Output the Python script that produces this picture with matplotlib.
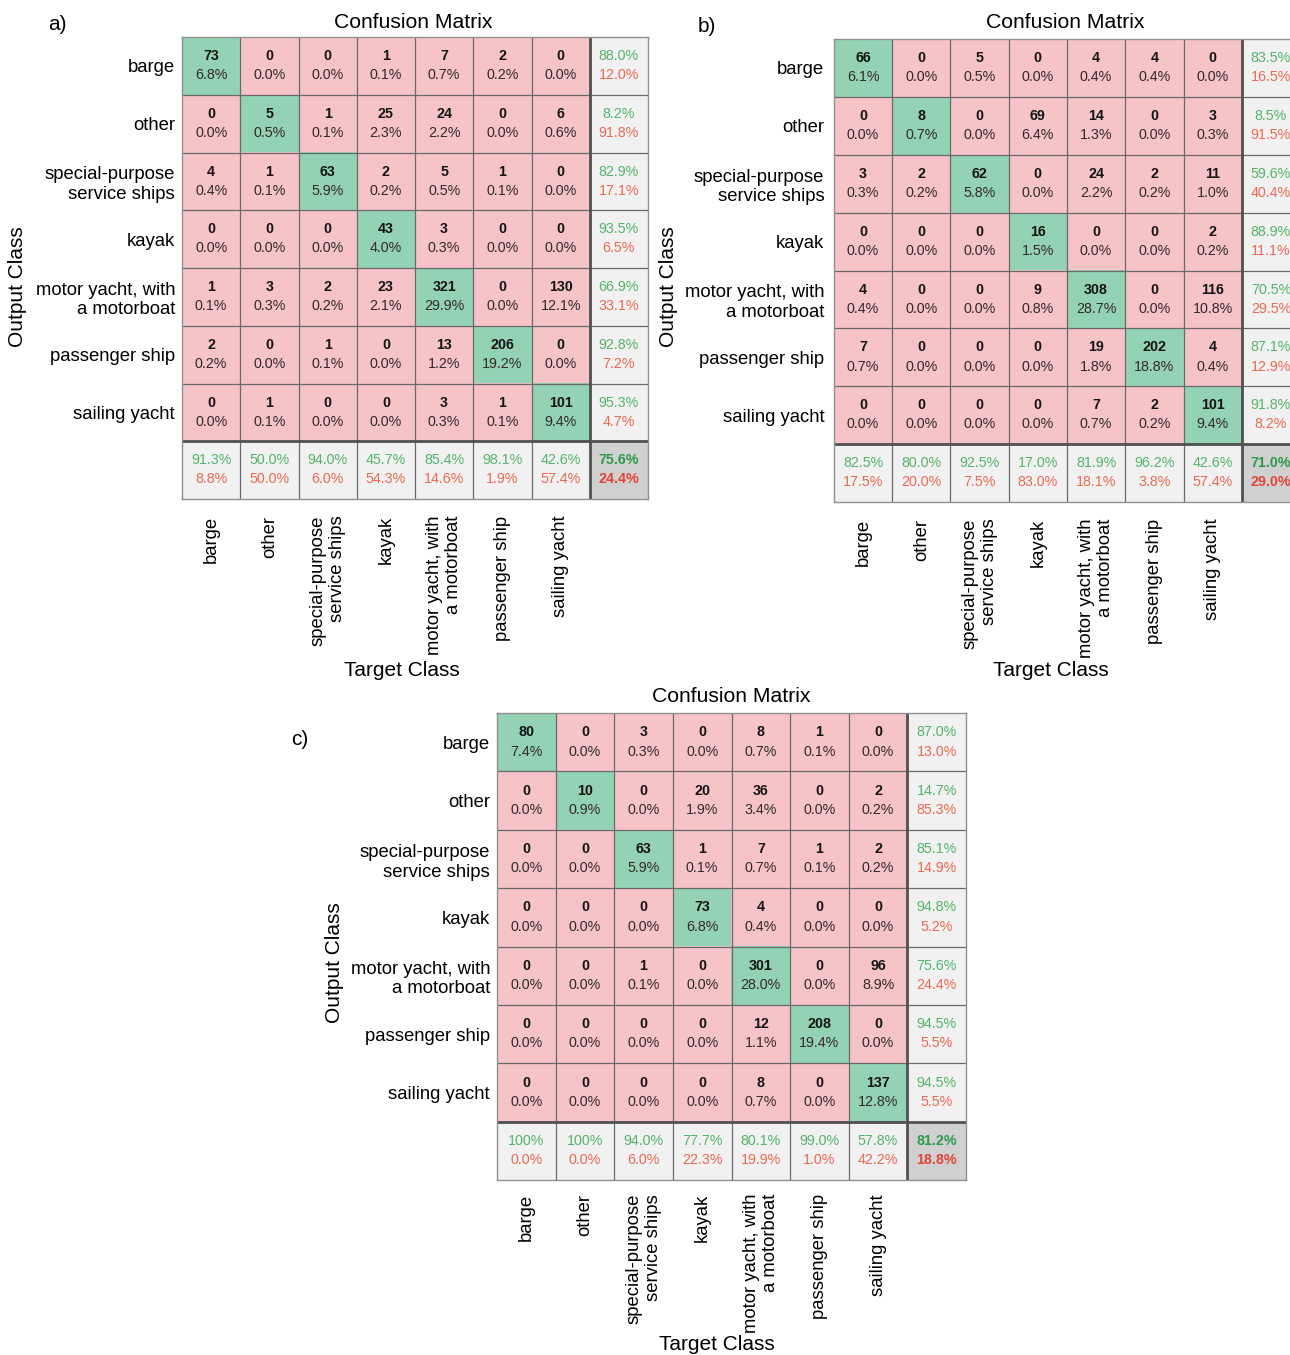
import numpy as np
import matplotlib
matplotlib.use("Agg")
import matplotlib.pyplot as plt

plt.rcParams['font.family'] = ['Liberation Sans', 'DejaVu Sans']

classes = ["barge", "other", "special-purpose\nservice ships", "kayak",
           "motor yacht, with\na motorboat", "passenger ship", "sailing yacht"]

counts_a = [
    [73, 0, 0, 1, 7, 2, 0],
    [0, 5, 1, 25, 24, 0, 6],
    [4, 1, 63, 2, 5, 1, 0],
    [0, 0, 0, 43, 3, 0, 0],
    [1, 3, 2, 23, 321, 0, 130],
    [2, 0, 1, 0, 13, 206, 0],
    [0, 1, 0, 0, 3, 1, 101],
]
counts_b = [
    [66, 0, 5, 0, 4, 4, 0],
    [0, 8, 0, 69, 14, 0, 3],
    [3, 2, 62, 0, 24, 2, 11],
    [0, 0, 0, 16, 0, 0, 2],
    [4, 0, 0, 9, 308, 0, 116],
    [7, 0, 0, 0, 19, 202, 4],
    [0, 0, 0, 0, 7, 2, 101],
]
counts_c = [
    [80, 0, 3, 0, 8, 1, 0],
    [0, 10, 0, 20, 36, 0, 2],
    [0, 0, 63, 1, 7, 1, 2],
    [0, 0, 0, 73, 4, 0, 0],
    [0, 0, 1, 0, 301, 0, 96],
    [0, 0, 0, 0, 12, 208, 0],
    [0, 0, 0, 0, 8, 0, 137],
]

W, H = 1290, 1355
fig = plt.figure(figsize=(W / 100, H / 100), dpi=100)

PINK = np.array([246, 196, 199]) / 255
GREEN = np.array([148, 210, 180]) / 255
GRAY = np.array([241, 241, 241]) / 255
DARK = np.array([208, 208, 208]) / 255
TXT_G = "#55b46a"
TXT_R = "#ea6a52"
CF = 10.3


def fmt(p):
    r = np.floor(p * 10 + 0.5 + 1e-9) / 10
    if r >= 100:
        return "100%"
    return f"{r:.1f}%"


def fx(px):
    return px / W


def fy(py):
    return 1 - py / H


def panel(cm, box, title_xy, out_xy, tgt_xy, letter_xy, letter, ypad, xpad):
    cm = np.array(cm, dtype=float)
    n = cm.shape[0]
    total = cm.sum()
    l, t, r, b = box
    ax = fig.add_axes([fx(l), fy(b), fx(r - l), (b - t) / H])
    img = np.zeros((n + 1, n + 1, 3))
    for i in range(n + 1):
        for j in range(n + 1):
            if i == n and j == n:
                img[i, j] = DARK
            elif i == n or j == n:
                img[i, j] = GRAY
            elif i == j:
                img[i, j] = GREEN
            else:
                img[i, j] = PINK
    ax.imshow(img, extent=(-0.5, n + 0.5, n + 0.5, -0.5), aspect='auto',
              interpolation='nearest')
    ax.set_xlim(-0.5, n + 0.5)
    ax.set_ylim(n + 0.5, -0.5)
    for k in range(1, n + 1):
        lw = 2.0 if k == n else 0.9
        c = "#505050" if k == n else "#6a6a6a"
        ax.axvline(k - 0.5, color=c, lw=lw)
        ax.axhline(k - 0.5, color=c, lw=lw)
    for s in ax.spines.values():
        s.set_color("#909090")
        s.set_linewidth(1.0)
    for i in range(n):
        for j in range(n):
            v = cm[i, j]
            ax.text(j, i - 0.17, f"{int(v)}", ha='center', va='center',
                    fontsize=CF, fontweight='bold', color='#151515')
            ax.text(j, i + 0.16, fmt(v / total * 100), ha='center',
                    va='center', fontsize=CF, color='#33282a')
    rows = cm.sum(axis=1)
    cols = cm.sum(axis=0)
    diag = np.diag(cm)
    for i in range(n):
        p = diag[i] / rows[i] * 100
        ax.text(n, i - 0.17, fmt(p), ha='center', va='center', fontsize=CF,
                color=TXT_G)
        ax.text(n, i + 0.16, fmt(100 - p), ha='center',
                va='center', fontsize=CF, color=TXT_R)
    for j in range(n):
        p = diag[j] / cols[j] * 100
        ax.text(j, n - 0.17, fmt(p), ha='center', va='center', fontsize=CF,
                color=TXT_G)
        ax.text(j, n + 0.16, fmt(100 - p), ha='center', va='center',
                fontsize=CF, color=TXT_R)
    acc = diag.sum() / total * 100
    ax.text(n, n - 0.17, fmt(acc), ha='center', va='center', fontsize=CF,
            color="#2e9a4c", fontweight='bold')
    ax.text(n, n + 0.16, fmt(100 - acc), ha='center', va='center',
            fontsize=CF, color="#e0443a", fontweight='bold')

    ax.set_xticks(range(n))
    ax.set_xticklabels(classes, rotation=90, fontsize=13.3, ha='center',
                       va='top', multialignment='right')
    ax.set_yticks(range(n))
    ax.set_yticklabels(classes, fontsize=13.3, multialignment='right')
    ax.tick_params(length=0, pad=xpad, axis='x')
    ax.tick_params(length=0, pad=ypad, axis='y')

    fig.text(fx(title_xy[0]), fy(title_xy[1]), "Confusion Matrix",
             ha='center', va='center', fontsize=15.2)
    fig.text(fx(out_xy[0]), fy(out_xy[1]), "Output Class", ha='center',
             va='center', rotation=90, fontsize=15)
    fig.text(fx(tgt_xy[0]), fy(tgt_xy[1]), "Target Class", ha='center',
             va='center', fontsize=15)
    fig.text(fx(letter_xy[0]), fy(letter_xy[1]), letter, ha='center',
             va='center', fontsize=15)
    return ax


panel(counts_a, (182, 37, 648, 499), (413, 23), (18, 287), (402, 670),
      (57, 25), "a)", 5, 12)
panel(counts_b, (834, 39, 1300, 502), (1065, 23), (668, 287), (1051, 670),
      (707, 27), "b)", 7, 12)
panel(counts_c, (497, 713, 966, 1180), (731, 697), (334, 963), (717, 1345),
      (300, 739), "c)", 5, 10)

fig.savefig("out.png", dpi=100)
